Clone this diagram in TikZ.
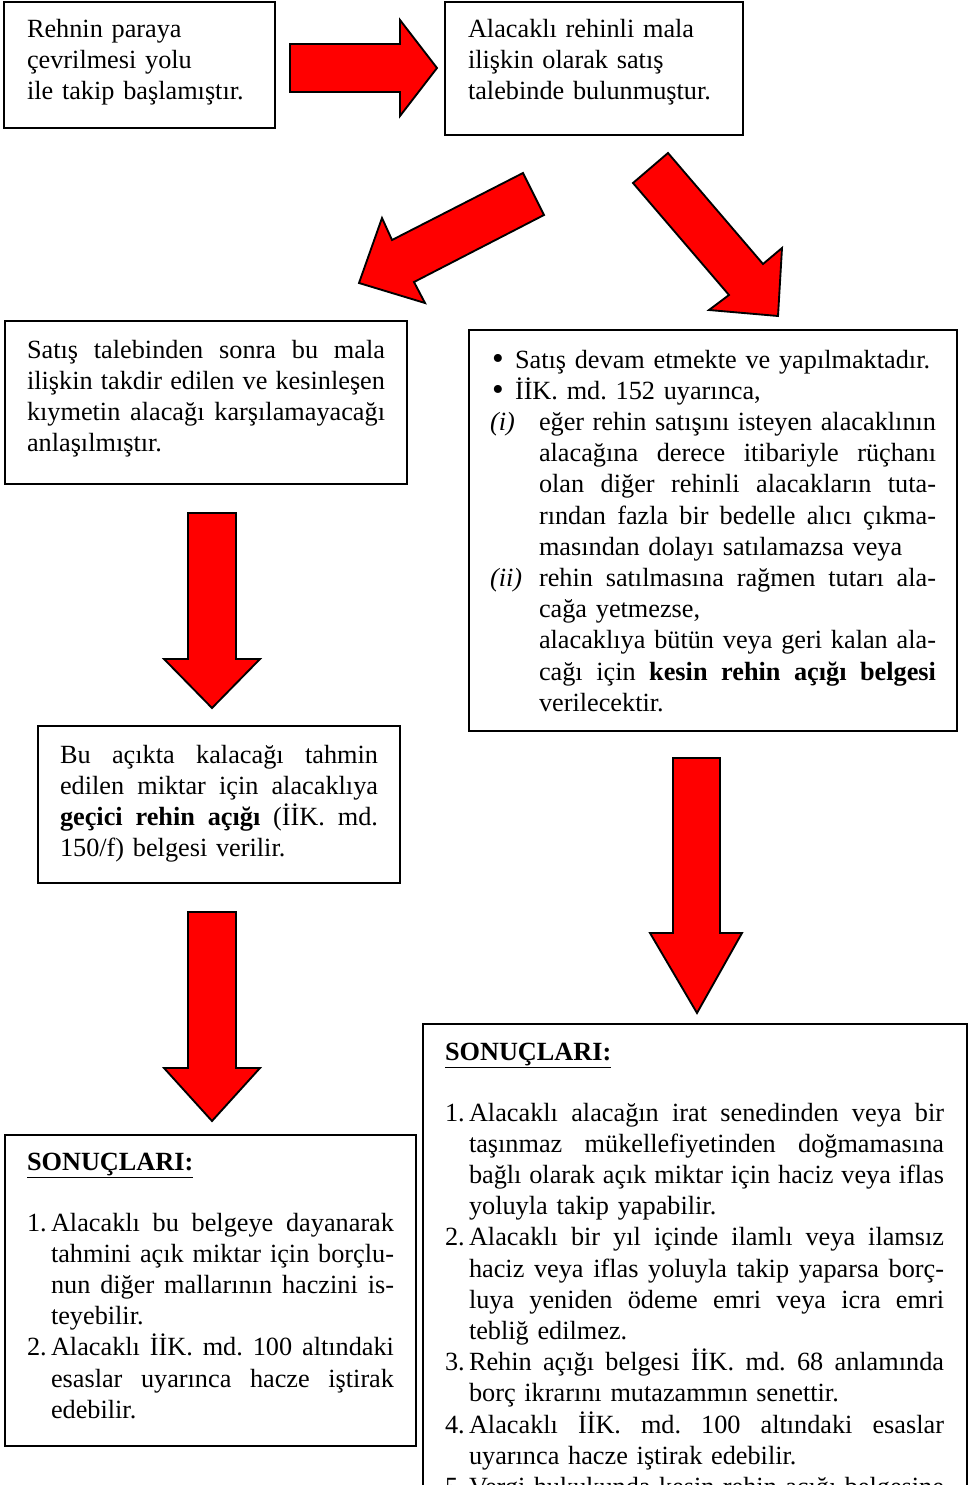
\documentclass[tikz,border=0pt]{standalone}
\usepackage{fontspec}
\setmainfont{Liberation Serif}
\usetikzlibrary{fit}
\frenchspacing
\newcommand\jl[1]{{\spaceskip=0pt\xspaceskip=0pt\makebox[\hsize][s]{#1}}}
\begin{document}
\begin{tikzpicture}[x=0.75pt,y=-0.75pt,
  box/.style={draw=black,line width=2pt,inner sep=0pt},
  blk/.style={fill=red,draw=black,line width=1.4pt,line join=miter},
  bul/.style={inner sep=0pt,outer sep=0pt,font=\fontsize{25pt}{25pt}\selectfont},
  txt/.style={anchor=base west,inner sep=0pt,outer sep=0pt,
    font=\fontsize{19.7pt}{23.4pt}\selectfont\frenchspacing}]
\useasboundingbox (0,0) rectangle (968,1485);

% boxes
\node[box,fit={(4,2)(275,128)}] (b1) {};
\node[box,fit={(445,2)(743,135)}] (b2) {};
\node[box,fit={(5,321)(407,484)}] (b3) {};
\node[box,fit={(469,330)(957,731)}] (b4) {};
\node[box,fit={(38,726)(400,883)}] (b5) {};
\node[box,fit={(5,1135)(416,1446)}] (b6) {};
\node[box,fit={(423,1024)(967,1510)}] (b7) {};

% block arrows
\draw[blk] (290,44) -- (400,44) -- (400,20) -- (437,68) -- (400,116) -- (400,92) -- (290,92) -- cycle;
\draw[blk] (523,173) -- (544,215) -- (414,282) -- (425,303) -- (359,283) -- (382,218) -- (392,240) -- cycle;
\draw[blk] (668,153) -- (763,264) -- (782,248) -- (778,316) -- (709,310) -- (729,295) -- (633,183) -- cycle;
\draw[blk] (188,513) -- (236,513) -- (236,659) -- (260,659) -- (212,708) -- (164,659) -- (188,659) -- cycle;
\draw[blk] (188,912) -- (236,912) -- (236,1068) -- (260,1068) -- (212,1121) -- (164,1068) -- (188,1068) -- cycle;
\draw[blk] (673,758) -- (720,758) -- (720,933) -- (742,933) -- (697,1013) -- (650,933) -- (673,933) -- cycle;

% box 1
\node[txt,text width=200pt] (t1) at (27,37) {Rehnin paraya\\çevrilmesi yolu\\ile takip başlamıştır.};
% box 2
\node[txt,text width=210pt] (t2) at (468,37) {Alacaklı rehinli mala\\ilişkin olarak satış\\talebinde bulunmuştur.};
% box 3
\node[txt,text width=268.5pt] (t3) at (27,358) {\jl{Satış talebinden sonra bu mala}\\\jl{ilişkin takdir edilen ve kesinleşen}\\\jl{kıymetin alacağı karşılamayacağı}\\anlaşılmıştır.};
% box 4
\node[bul] (bu1) at (498,361.5) {•};
\node[bul] (bu2) at (498,392.7) {•};
\node[txt,text width=330pt] (s1) at (515,368) {Satış devam etmekte ve yapılmaktadır.\\İİK. md. 152 uyarınca,};
\node[txt,text width=40pt] (r1) at (490,430.4) {\textit{(i)}};
\node[txt,text width=40pt] (r2) at (490,586.4) {\textit{(ii)}};
\node[txt,text width=297.75pt] (s2) at (539,430.4) {\jl{eğer rehin satışını isteyen alacaklının}\\\jl{alacağına derece itibariyle rüçhanı}\\\jl{olan diğer rehinli alacakların tuta-}\\\jl{rından fazla bir bedelle alıcı çıkma-}\\masından dolayı satılamazsa veya\\\jl{rehin satılmasına rağmen tutarı ala-}\\cağa yetmezse,\\\jl{alacaklıya bütün veya geri kalan ala-}\\\jl{cağı için \textbf{kesin rehin açığı belgesi}}\\verilecektir.};
% box 5
\node[txt,text width=238.5pt] (t5) at (60,763) {\jl{Bu açıkta kalacağı tahmin}\\\jl{edilen miktar için alacaklıya}\\\jl{\textbf{geçici rehin açığı} (İİK. md.}\\150/f) belgesi verilir.};
% box 6
\node[txt,text width=200pt] (h6) at (27,1170) {\textbf{\underline{SONUÇLARI:}}};
\node[txt,text width=20pt] (n61) at (27,1231) {1.};
\node[txt,text width=20pt] (n62) at (27,1355.8) {2.};
\node[txt,text width=257.25pt] (t6) at (51,1231) {\jl{Alacaklı bu belgeye dayanarak}\\\jl{tahmini açık miktar için borçlu-}\\\jl{nun diğer mallarının haczini is-}\\teyebilir.\\\jl{Alacaklı İİK. md. 100 altındaki}\\\jl{esaslar uyarınca hacze iştirak}\\edebilir.};
% box 7
\node[txt,text width=200pt] (h7) at (445,1060) {\textbf{\underline{SONUÇLARI:}}};
\node[txt,text width=20pt] (n71) at (445,1121) {1.};
\node[txt,text width=20pt] (n72) at (445,1245.8) {2.};
\node[txt,text width=20pt] (n73) at (445,1370.6) {3.};
\node[txt,text width=20pt] (n74) at (445,1433) {4.};
\node[txt,text width=20pt] (n75) at (445,1495.4) {5.};
\node[txt,text width=356.25pt] (t7) at (469,1121) {\jl{Alacaklı alacağın irat senedinden veya bir}\\\jl{taşınmaz mükellefiyetinden doğmamasına}\\\jl{bağlı olarak açık miktar için haciz veya iflas}\\yoluyla takip yapabilir.\\\jl{Alacaklı bir yıl içinde ilamlı veya ilamsız}\\\jl{haciz veya iflas yoluyla takip yaparsa borç-}\\\jl{luya yeniden ödeme emri veya icra emri}\\tebliğ edilmez.\\\jl{Rehin açığı belgesi İİK. md. 68 anlamında}\\borç ikrarını mutazammın senettir.\\\jl{Alacaklı İİK. md. 100 altındaki esaslar}\\uyarınca hacze iştirak edebilir.\\\jl{Vergi hukukunda kesin rehin açığı belgesine}};
\end{tikzpicture}
\end{document}
